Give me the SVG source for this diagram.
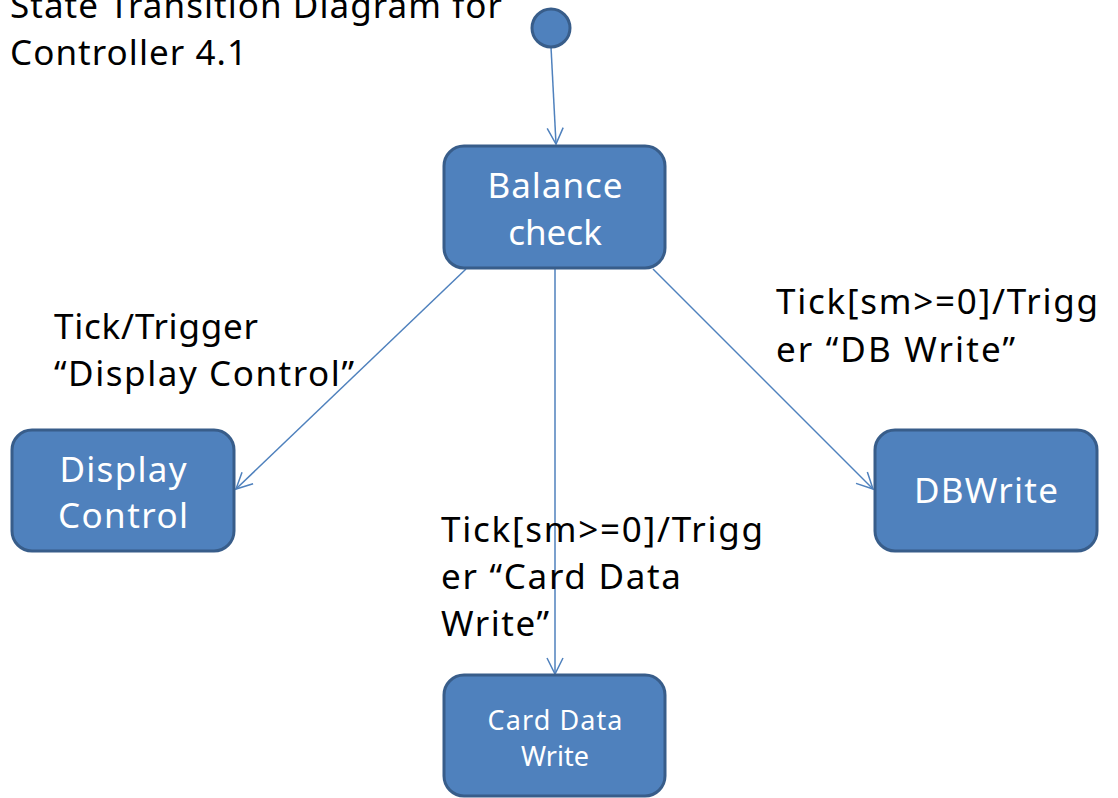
<svg xmlns="http://www.w3.org/2000/svg" width="1118" height="798" viewBox="0 0 1118 798">
<style>
.node{fill:#4F81BD;stroke:#385D8A;stroke-width:3}
.nt{font-family:"Noto Sans","Open Sans",sans-serif;fill:#FFFFFF;text-anchor:middle;font-size:35px}
.lbl{font-family:"Noto Sans","Open Sans",sans-serif;fill:#000000;font-size:35px}
.edge{stroke:#4F81BD;stroke-width:1.5;fill:none;marker-end:url(#arr)}
</style>
<defs>
<marker id="arr" viewBox="0 0 20 20" refX="18" refY="10" markerWidth="20" markerHeight="20" markerUnits="userSpaceOnUse" orient="auto">
<path d="M2,2 L18,10 L2,18" fill="none" stroke="#4F81BD" stroke-width="1.5"/>
</marker>
</defs>
<rect width="1118" height="798" fill="#FFFFFF"/>
<g id="title">
<text class="lbl" x="10" y="18" textLength="492" lengthAdjust="spacing">State Transition Diagram for</text>
<text class="lbl" x="10" y="65" textLength="237" lengthAdjust="spacing">Controller 4.1</text>
</g>
<g id="connectors">
<line class="edge" x1="551" y1="47" x2="556" y2="144"/>
<line class="edge" x1="466" y1="269" x2="236" y2="489"/>
<line class="edge" x1="555" y1="269" x2="555" y2="674"/>
<line class="edge" x1="653" y1="269" x2="873" y2="489"/>
</g>
<g id="labels">
<text class="lbl" x="54" y="339" textLength="204" lengthAdjust="spacing">Tick/Trigger</text>
<text class="lbl" x="54" y="386" textLength="300" lengthAdjust="spacing">“Display Control”</text>
<text class="lbl" x="776" y="314" textLength="322" lengthAdjust="spacing">Tick[sm&gt;=0]/Trigg</text>
<text class="lbl" x="776" y="362" textLength="239" lengthAdjust="spacing">er “DB Write”</text>
<text class="lbl" x="441" y="542" textLength="322" lengthAdjust="spacing">Tick[sm&gt;=0]/Trigg</text>
<text class="lbl" x="441" y="589" textLength="240" lengthAdjust="spacing">er “Card Data</text>
<text class="lbl" x="441" y="636" textLength="108" lengthAdjust="spacing">Write”</text>
</g>
<g id="initial">
<circle cx="551" cy="28" r="19" class="node"/>
</g>
<g id="balance">
<rect x="444" y="146" width="221" height="122" rx="20" class="node"/>
<text class="nt" x="555" y="198" textLength="135" lengthAdjust="spacing">Balance</text>
<text class="nt" x="555" y="245">check</text>
</g>
<g id="display">
<rect x="12" y="430" width="222" height="121" rx="20" class="node"/>
<text class="nt" x="123" y="482" textLength="127" lengthAdjust="spacing">Display</text>
<text class="nt" x="123" y="528" textLength="130" lengthAdjust="spacing">Control</text>
</g>
<g id="dbwrite">
<rect x="875" y="430" width="222" height="121" rx="20" class="node"/>
<text class="nt" x="986" y="503" textLength="144" lengthAdjust="spacing">DBWrite</text>
</g>
<g id="card">
<rect x="444" y="675" width="221" height="121" rx="20" class="node"/>
<text class="nt" x="555" y="730" style="font-size:27px" textLength="135" lengthAdjust="spacing">Card Data</text>
<text class="nt" x="555" y="766" style="font-size:27px">Write</text>
</g>
</svg>
